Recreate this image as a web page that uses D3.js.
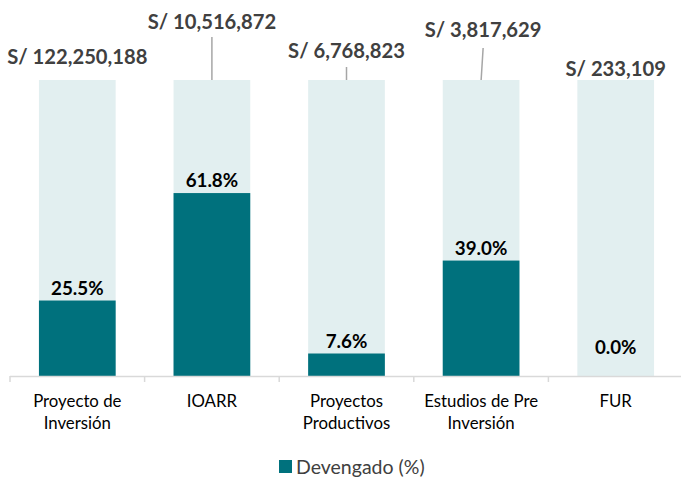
<!DOCTYPE html>
<html>
<head>
<meta charset="utf-8">
<script src="https://cdn.jsdelivr.net/npm/d3@7"></script>
<style>
  html, body { margin: 0; padding: 0; background: #ffffff; }
  svg { display: block; }
</style>
</head>
<body>
<svg id="chart" width="681" height="482"></svg>
<script>
// ---- data ----
const categories = ["Proyecto de\nInversión", "IOARR", "Proyectos\nProductivos", "Estudios de Pre\nInversión", "FUR"];
const devengadoPct = [0.255, 0.618, 0.076, 0.390, 0.000];
const totalPct = [1, 1, 1, 1, 1];
const totalLabels = ["S/ 122,250,188", "S/ 10,516,872", "S/ 6,768,823", "S/ 3,817,629", "S/ 233,109"];
const legendLabels = ["Devengado (%)"];

// ---- layout (label placement, as moved by hand in the source) ----
const totalLabelBaseline = [64, 29, 58, 37, 76];
const leaderLines = [null, {x1: 0, y1: 37, x2: 0}, {x1: 0, y1: 67, x2: 0}, {x1: 2, y1: 48, x2: 0}, null];

const W = 681, H = 482;
const teal = "#00717D", light = "#E2EFF0", axisCol = "#D9D9D9", textDark = "#404040";
const font = "Lato, 'Open Sans', sans-serif";

const svg = d3.select("#chart");
svg.append("rect").attr("width", W).attr("height", H).attr("fill", "#fff");

const x = d3.scaleBand().domain(categories).range([10, 683]).paddingInner(0.43).paddingOuter(0.215);
const y = d3.scaleLinear().domain([0, 1]).range([376, 80]);

// background (total) bars
svg.append("g").selectAll("rect").data(categories).join("rect")
  .attr("x", d => x(d)).attr("width", x.bandwidth())
  .attr("y", (d, i) => y(totalPct[i])).attr("height", (d, i) => y(0) - y(totalPct[i]))
  .attr("fill", light);

// devengado bars
svg.append("g").selectAll("rect").data(categories).join("rect")
  .attr("x", d => x(d)).attr("width", x.bandwidth())
  .attr("y", (d, i) => y(devengadoPct[i])).attr("height", (d, i) => y(0) - y(devengadoPct[i]))
  .attr("fill", teal);

// axis line and boundary ticks
const axisY = y(0);
svg.append("line").attr("x1", 10).attr("x2", W).attr("y1", axisY + 0.5).attr("y2", axisY + 0.5)
  .attr("stroke", axisCol).attr("stroke-width", 1.5);
const bounds = d3.range(categories.length + 1).map(i => 10 + i * x.step());
svg.append("g").selectAll("line").data(bounds).join("line")
  .attr("x1", d => d).attr("x2", d => d).attr("y1", axisY).attr("y2", axisY + 6)
  .attr("stroke", axisCol).attr("stroke-width", 1.5);

// category labels via axis
const axis = d3.axisBottom(x).tickSize(0).tickFormat("");
const ag = svg.append("g").attr("transform", `translate(0,${axisY})`).call(axis);
ag.select(".domain").remove();
ag.selectAll(".tick").each(function(d) {
  const t = d3.select(this).append("text")
    .attr("fill", "#000").attr("text-anchor", "middle")
    .style("font-family", font).style("font-size", "16.8px");
  d.split("\n").forEach((ln, k) => {
    t.append("tspan").attr("x", 0).attr("y", 31 + k * 22).text(ln);
  });
});

// percent labels
svg.append("g").selectAll("text").data(categories).join("text")
  .attr("x", d => x(d) + x.bandwidth() / 2)
  .attr("y", (d, i) => Math.min(y(devengadoPct[i]) - 6, y(0) - 22))
  .attr("text-anchor", "middle").attr("fill", "#000")
  .style("font-family", font).style("font-size", "18.8px").style("font-weight", "bold")
  .text((d, i) => d3.format(".1%")(devengadoPct[i]));

// total labels + leader lines
const cx = (d) => x(d) + x.bandwidth() / 2;
svg.append("g").selectAll("line").data(categories.filter((d, i) => leaderLines[i])).join("line")
  .each(function(d) {
    const i = categories.indexOf(d);
    const L = leaderLines[i];
    d3.select(this)
      .attr("x1", cx(d) + L.x1).attr("y1", L.y1)
      .attr("x2", cx(d) + L.x2).attr("y2", y(totalPct[i]))
      .attr("stroke", "#A6A6A6").attr("stroke-width", 1.5);
  });
svg.append("g").selectAll("text").data(categories).join("text")
  .attr("x", (d, i) => cx(d) + (i === 3 ? 2 : 0))
  .attr("y", (d, i) => totalLabelBaseline[i])
  .attr("text-anchor", "middle").attr("fill", textDark)
  .style("font-family", font).style("font-size", "20.2px").style("font-weight", "bold")
  .text((d, i) => totalLabels[i]);

// legend
const lg = svg.append("g");
lg.append("rect").attr("x", 279).attr("y", 460).attr("width", 13).attr("height", 13).attr("fill", teal);
lg.append("text").attr("x", 296).attr("y", 474).attr("fill", textDark)
  .style("font-family", font).style("font-size", "19.5px").text(legendLabels[0]);
</script>
</body>
</html>
